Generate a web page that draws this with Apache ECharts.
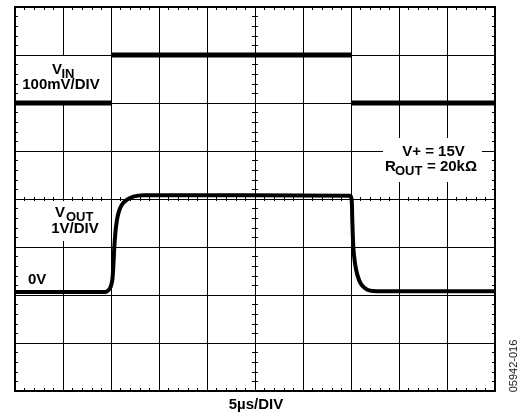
<!DOCTYPE html>
<html>
<head>
<meta charset="utf-8">
<script src="https://cdn.jsdelivr.net/npm/echarts@6/dist/echarts.min.js"></script>
<style>
html,body{margin:0;padding:0;background:#fff;}
#c{width:518px;height:419px;}
</style>
</head>
<body>
<div id="c"></div>
<script>
// Time axis in divisions (5 µs/DIV), vertical axis in divisions (0 = bottom edge)
const xDivisions = [0, 10];
const yDivisions = [0, 8];

// V_IN trace (100 mV/DIV): levels in divisions; edges are too fast to be drawn
const vinTime  = [0, 2, 2, 7, 7, 10];
const vinLevel = [6, 6, 7, 7, 6, 6];
const vinBreakAfter = [1, 3];

// V_OUT trace (1 V/DIV)
const voutTime  = [0, 1.875, 1.979, 2.027, 2.048, 2.069, 2.104, 2.152, 2.223, 2.327, 2.465, 2.673, 2.9,
                   6.979, 7.014, 7.027, 7.048, 7.083, 7.132, 7.202, 7.292, 7.396, 7.535, 10];
const voutLevel = [2.06, 2.06, 2.14, 2.31, 2.59, 3.0, 3.42, 3.70, 3.875, 3.98, 4.05, 4.08, 4.08,
                   4.07, 3.98, 3.56, 3.0, 2.66, 2.42, 2.24, 2.14, 2.09, 2.08, 2.08];

// Text
const xTitle = '5µs/DIV';
const figureId = '05942-016';

const FONT = '"Liberation Sans", Arial, Helvetica, sans-serif';

const vinData = [];
vinTime.forEach((t, i) => {
  vinData.push([t, vinLevel[i]]);
  if (vinBreakAfter.includes(i)) vinData.push([t, '-']);
});
const voutData = voutTime.map((t, i) => [t, voutLevel[i]]);

const chart = echarts.init(document.getElementById('c'), null, {renderer: 'canvas'});

function xAx(position, offset, inside, len, border) {
  return {
    type: 'value', gridIndex: 0, position: position, offset: offset,
    min: xDivisions[0], max: xDivisions[1], interval: 1,
    axisLine: {show: border, onZero: false, lineStyle: {color: '#000', width: 2}},
    axisTick: {show: true, inside: inside, length: len, lineStyle: {color: '#000', width: 1}},
    minorTick: {show: true, splitNumber: 5, length: len, lineStyle: {color: '#000', width: 1}},
    axisLabel: {show: false},
    splitLine: {show: false}
  };
}
function yAx(position, offset, inside, len, border) {
  return {
    type: 'value', gridIndex: 0, position: position, offset: offset,
    min: yDivisions[0], max: yDivisions[1], interval: 1,
    axisLine: {show: border, onZero: false, lineStyle: {color: '#000', width: 2}},
    axisTick: {show: true, inside: inside, length: len, lineStyle: {color: '#000', width: 1}},
    minorTick: {show: true, splitNumber: 5, length: len, lineStyle: {color: '#000', width: 1}},
    axisLabel: {show: false},
    splitLine: {show: false}
  };
}

const xAxes = [
  xAx('bottom', 0, true, 3, true),
  xAx('top', 0, true, 3, true),
  xAx('bottom', -192, true, 2, false),
  xAx('bottom', -192, false, 2, false)
];
xAxes[0].splitLine = {show: true, lineStyle: {color: '#000', width: 1}};
const yAxes = [
  yAx('left', 0, true, 3, true),
  yAx('right', 0, true, 3, true),
  yAx('left', -240, true, 3, false),
  yAx('left', -240, false, 3, false)
];
yAxes[0].splitLine = {show: true, lineStyle: {color: '#000', width: 1}};

function txt(x, y, s, size, align, extra) {
  return Object.assign({
    type: 'text', x: x, y: y, z: 10,
    style: {text: s, fill: '#000', font: 'bold ' + size + 'px ' + FONT,
            textAlign: align, textVerticalAlign: 'middle'}
  }, extra || {});
}
function box(x, y, w, h) {
  return {type: 'rect', z: 1, shape: {x: x, y: y, width: w, height: h}, style: {fill: '#fff'}};
}

chart.setOption({
  animation: false,
  backgroundColor: '#fff',
  grid: {left: 15, top: 7, width: 480, height: 384, show: false},
  xAxis: xAxes,
  yAxis: yAxes,
  series: [
    {type: 'line', name: 'VIN', data: vinData, xAxisIndex: 0, yAxisIndex: 0,
     showSymbol: false, symbol: 'none', connectNulls: false, z: 5,
     lineStyle: {color: '#000', width: 5, cap: 'butt'}},
    {type: 'line', name: 'VOUT', data: voutData, xAxisIndex: 0, yAxisIndex: 0,
     showSymbol: false, symbol: 'none', smooth: 0.25, z: 5,
     lineStyle: {color: '#000', width: 4, join: 'round'}}
  ],
  graphic: [
    box(19, 56, 90, 45),
    box(42, 201, 64, 40),
    box(383, 138, 99, 44),
    txt(52, 69.5, 'V', 15, 'left'),
    txt(61.5, 74, 'IN', 13, 'left'),
    txt(61, 84.5, '100mV/DIV', 15, 'center'),
    txt(55, 212.5, 'V', 15, 'left'),
    txt(66, 217.5, 'OUT', 13, 'left'),
    txt(75, 228.5, '1V/DIV', 15, 'center'),
    txt(28, 280, '0V', 15, 'left'),
    txt(433.5, 152, 'V+ = 15V', 15, 'center'),
    txt(385, 166.5, 'R', 15, 'left'),
    txt(395, 171, 'OUT', 13, 'left'),
    txt(427, 166.5, '= 20kΩ', 15, 'left'),
    txt(256, 405, xTitle, 15, 'center'),
    {type: 'text', x: 514, y: 366, rotation: Math.PI / 2, z: 10,
     style: {text: figureId, fill: '#222', font: '11px ' + FONT,
             textAlign: 'center', textVerticalAlign: 'middle'}}
  ]
});
</script>
</body>
</html>
